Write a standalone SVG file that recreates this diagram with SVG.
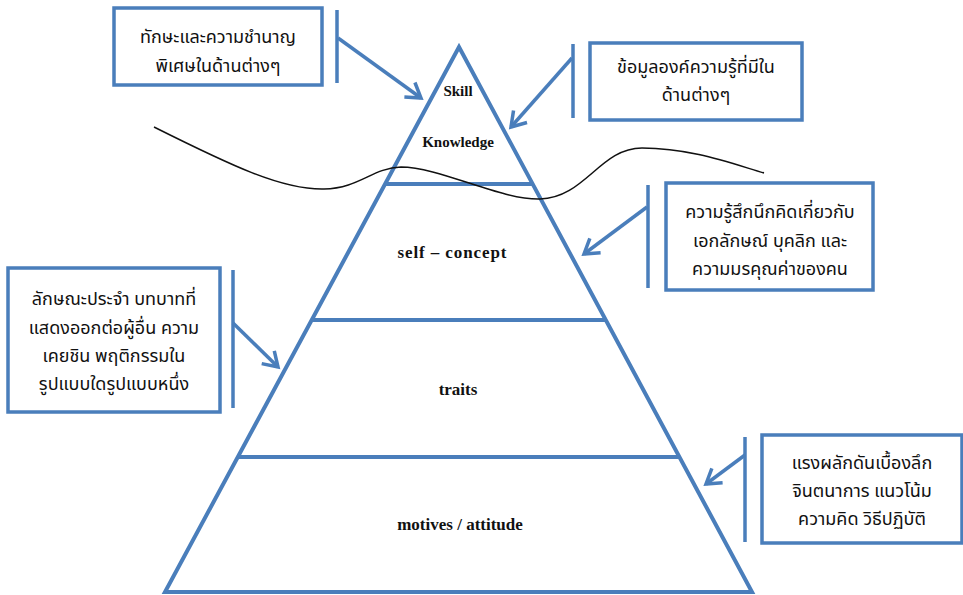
<svg xmlns="http://www.w3.org/2000/svg" width="963" height="595" viewBox="0 0 963 595">
<style>
.pyr{fill:none;stroke:#4A7EBB;stroke-width:4;stroke-linejoin:miter}
.box{fill:#fff;stroke:#4A7EBB;stroke-width:3.5}
.bar{stroke:#4A7EBB;stroke-width:3.5;fill:none}
.arr{stroke:#4A7EBB;stroke-width:3.5;fill:none;marker-end:url(#ah)}
.th{font-family:"Noto Sans Thai","Noto Sans","DejaVu Sans",sans-serif;font-size:18px;fill:#111;text-anchor:middle}
.lv{font-family:"Liberation Serif","Times New Roman",serif;font-weight:bold;font-size:15px;fill:#111;text-anchor:middle}
.lv2{font-family:"Liberation Serif","Times New Roman",serif;font-weight:bold;font-size:17px;fill:#111;text-anchor:middle}
</style>
<defs>
<marker id="ah" markerUnits="userSpaceOnUse" markerWidth="24" markerHeight="24" refX="18" refY="12" orient="auto">
<path d="M4,3 L18,12 L4,21" fill="none" stroke="#4A7EBB" stroke-width="3.5"/>
</marker>
</defs>
<rect width="963" height="595" fill="#fff"/>
<g id="pyramid">
<path class="pyr" d="M459,47 L752,592 L165,592 Z"/>
<line class="pyr" x1="385" y1="184" x2="533" y2="184"/>
<line class="pyr" x1="312" y1="320" x2="606" y2="320"/>
<line class="pyr" x1="238" y1="457" x2="680" y2="457"/>
<text class="lv" x="458" y="96">Skill</text>
<text class="lv" x="458" y="147">Knowledge</text>
<text class="lv2" x="452" y="258" textLength="109" lengthAdjust="spacing">self – concept</text>
<text class="lv2" x="458" y="395">traits</text>
<text class="lv2" x="460" y="530">motives / attitude</text>
</g>
<path id="wave" d="M154,127 C230,165 282,190 324,189 C360,188 372,168 401,167 C440,167 500,200 540,199 C585,198 600,148 642,148 C690,148 730,163 764,173" fill="none" stroke="#111" stroke-width="1.5"/>
<g id="box-skill">
<rect class="box" x="114" y="8" width="208" height="77"/>
<text class="th" x="218" y="43">ทักษะและความชำนาญ</text>
<text class="th" x="218" y="72">พิเศษในด้านต่างๆ</text>
</g>
<g id="box-knowledge">
<rect class="box" x="590" y="43" width="212" height="77"/>
<text class="th" x="696" y="73">ข้อมูลองค์ความรู้ที่มีใน</text>
<text class="th" x="696" y="101">ด้านต่างๆ</text>
</g>
<g id="box-self">
<rect class="box" x="666" y="183" width="207" height="107"/>
<text class="th" x="770" y="218">ความรู้สึกนึกคิดเกี่ยวกับ</text>
<text class="th" x="770" y="247">เอกลักษณ์ บุคลิก และ</text>
<text class="th" x="770" y="275">ความมรคุณค่าของคน</text>
</g>
<g id="box-traits">
<rect class="box" x="8" y="268" width="212" height="144"/>
<text class="th" x="114" y="305">ลักษณะประจำ บทบาทที่</text>
<text class="th" x="114" y="334">แสดงออกต่อผู้อื่น ความ</text>
<text class="th" x="114" y="362">เคยชิน พฤติกรรมใน</text>
<text class="th" x="114" y="390">รูปแบบใดรูปแบบหนึ่ง</text>
</g>
<g id="box-motives">
<rect class="box" x="762" y="435" width="200" height="108"/>
<text class="th" x="862" y="469">แรงผลักดันเบื้องลึก</text>
<text class="th" x="862" y="497">จินตนาการ แนวโน้ม</text>
<text class="th" x="862" y="525">ความคิด วิธีปฏิบัติ</text>
</g>
<g id="connectors">
<line class="bar" x1="337" y1="10" x2="337" y2="83"/>
<line class="arr" x1="338" y1="38" x2="421" y2="98"/>
<line class="bar" x1="573" y1="44" x2="573" y2="118"/>
<line class="arr" x1="572" y1="58" x2="511" y2="127"/>
<line class="bar" x1="648" y1="185" x2="648" y2="288"/>
<line class="arr" x1="647" y1="207" x2="584" y2="254"/>
<line class="bar" x1="233" y1="270" x2="233" y2="408"/>
<line class="arr" x1="233" y1="323" x2="278" y2="367"/>
<line class="bar" x1="745" y1="437" x2="745" y2="542"/>
<line class="arr" x1="745" y1="455" x2="706" y2="484"/>
</g>
</svg>
